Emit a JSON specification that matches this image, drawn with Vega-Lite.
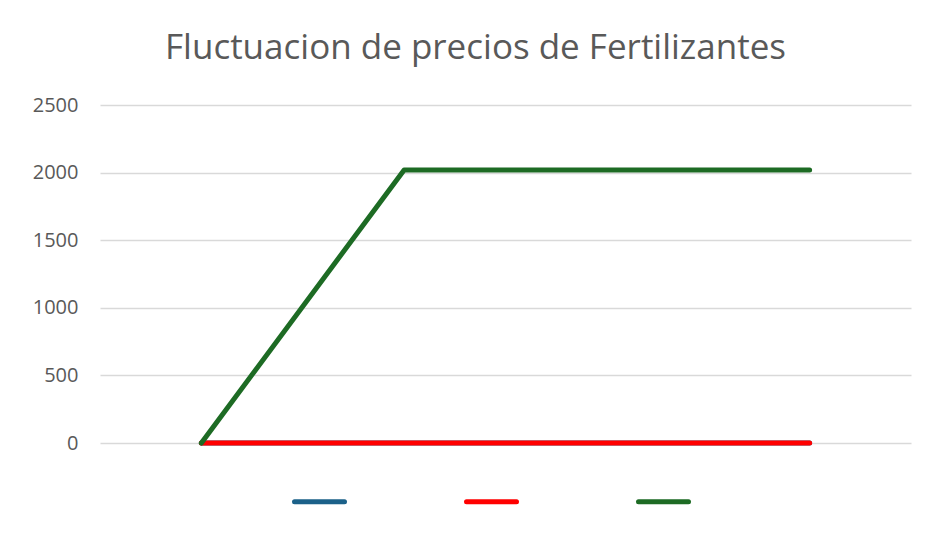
{
  "$schema": "https://vega.github.io/schema/vega-lite/v6.json",
  "autosize": {"type": "none"},
  "width": 811,
  "height": 338,
  "padding": {"left": 100, "top": 105, "right": 16, "bottom": 90},
  "background": "white",
  "title": {
    "text": "Fluctuacion de precios de Fertilizantes",
    "font": "Open Sans",
    "fontSize": 35,
    "fontWeight": "normal",
    "color": "#595959",
    "anchor": "middle",
    "frame": "group",
    "dx": -30,
    "offset": 29
  },
  "data": {
    "values": [
      {"serie": "A", "punto": 1, "precio": 0},
      {"serie": "A", "punto": 2, "precio": 0},
      {"serie": "A", "punto": 3, "precio": 0},
      {"serie": "A", "punto": 4, "precio": 0},
      {"serie": "B", "punto": 1, "precio": 0},
      {"serie": "B", "punto": 2, "precio": 0},
      {"serie": "B", "punto": 3, "precio": 0},
      {"serie": "B", "punto": 4, "precio": 0},
      {"serie": "C", "punto": 1, "precio": 0},
      {"serie": "C", "punto": 2, "precio": 2020},
      {"serie": "C", "punto": 3, "precio": 2020},
      {"serie": "C", "punto": 4, "precio": 2020}
    ]
  },
  "mark": {"type": "line", "strokeWidth": 5, "strokeCap": "round", "strokeJoin": "round"},
  "encoding": {
    "x": {
      "field": "punto",
      "type": "ordinal",
      "scale": {"type": "point", "padding": 0.5},
      "axis": null
    },
    "y": {
      "field": "precio",
      "type": "quantitative",
      "scale": {"domain": [0, 2500], "nice": false},
      "axis": {
        "title": null,
        "values": [0, 500, 1000, 1500, 2000, 2500],
        "format": "d",
        "domain": false,
        "ticks": false,
        "labelFont": "Open Sans",
        "labelFontSize": 20,
        "labelColor": "#595959",
        "labelPadding": 22,
        "gridColor": "#d9d9d9",
        "gridWidth": 1.5
      }
    },
    "color": {
      "field": "serie",
      "type": "nominal",
      "scale": {"domain": ["A", "B", "C"], "range": ["#1b6189", "#ff0000", "#1d6b24"]},
      "legend": {
        "title": null,
        "orient": "none",
        "direction": "horizontal",
        "legendX": 192,
        "legendY": 369,
        "padding": 0,
        "symbolType": "stroke",
        "symbolSize": 2500,
        "symbolStrokeWidth": 5,
        "labelExpr": "''",
        "labelOffset": 0,
        "columnPadding": 101,
        "encode": {"symbols": {"update": {"strokeCap": {"value": "round"}}}}
      }
    },
    "order": {"field": "serie"}
  },
  "config": {"view": {"stroke": null}}
}
